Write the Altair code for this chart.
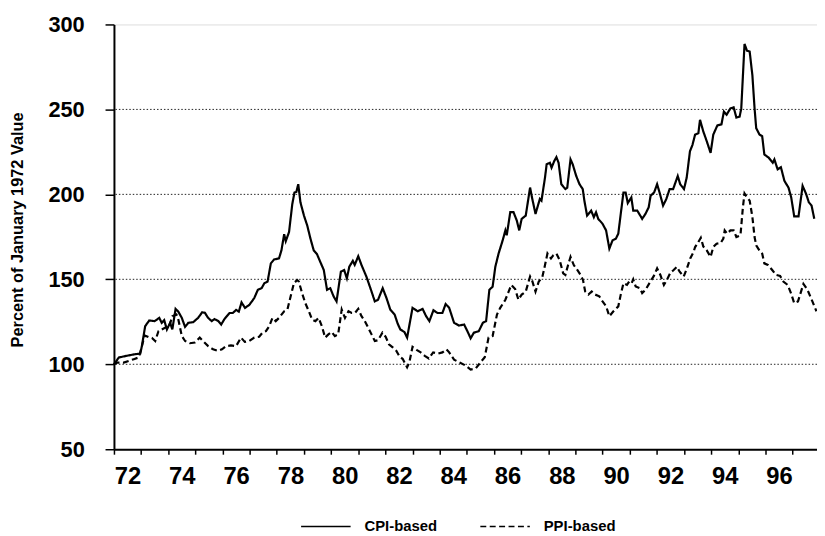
import altair as alt
import pandas as pd

# ---- data (decimal year, percent of Jan-1972) ----
cpi_t = [1972.00, 1972.18, 1972.35, 1972.60, 1972.80, 1972.97, 1973.03, 1973.15, 1973.30, 1973.50,
         1973.67, 1973.76, 1973.85, 1973.95, 1974.07, 1974.15, 1974.27, 1974.37, 1974.50, 1974.62,
         1974.74, 1974.92, 1975.10, 1975.25, 1975.35, 1975.47, 1975.60, 1975.70, 1975.84, 1975.95,
         1976.07, 1976.26, 1976.38, 1976.50, 1976.60, 1976.70, 1976.83, 1976.99, 1977.17, 1977.30,
         1977.44, 1977.54, 1977.66, 1977.78, 1977.90, 1978.08, 1978.17, 1978.27, 1978.33, 1978.45,
         1978.57, 1978.65, 1978.72, 1978.79, 1978.87, 1979.00, 1979.12, 1979.24, 1979.36, 1979.48,
         1979.60, 1979.73, 1979.85, 1979.97, 1980.09, 1980.20, 1980.36, 1980.48, 1980.58, 1980.67,
         1980.80, 1980.87, 1981.00, 1981.12, 1981.30, 1981.49, 1981.61, 1981.73, 1981.90, 1982.04,
         1982.18, 1982.34, 1982.45, 1982.55, 1982.70, 1982.80, 1983.00, 1983.19, 1983.37, 1983.50,
         1983.62, 1983.77, 1983.92, 1984.10, 1984.22, 1984.35, 1984.53, 1984.71, 1984.90, 1985.02,
         1985.14, 1985.26, 1985.44, 1985.59, 1985.71, 1985.83, 1985.95, 1986.05, 1986.17, 1986.32,
         1986.42, 1986.47, 1986.60, 1986.72, 1986.84, 1986.93, 1987.02, 1987.17, 1987.33, 1987.40,
         1987.53, 1987.69, 1987.75, 1987.88, 1987.94, 1988.06, 1988.12, 1988.22, 1988.30, 1988.38,
         1988.48, 1988.63, 1988.70, 1988.82, 1988.90, 1989.03, 1989.15, 1989.27, 1989.33, 1989.43,
         1989.58, 1989.68, 1989.76, 1989.84, 1990.00, 1990.13, 1990.25, 1990.37, 1990.49, 1990.58,
         1990.67, 1990.77, 1990.85, 1990.93, 1991.06, 1991.13, 1991.28, 1991.46, 1991.58, 1991.70,
         1991.77, 1991.90, 1992.01, 1992.10, 1992.23, 1992.35, 1992.47, 1992.60, 1992.77, 1992.86,
         1993.00, 1993.10, 1993.22, 1993.31, 1993.41, 1993.53, 1993.59, 1993.71, 1993.84, 1993.98,
         1994.08, 1994.23, 1994.38, 1994.47, 1994.57, 1994.71, 1994.83, 1994.93, 1995.05, 1995.11,
         1995.23, 1995.32, 1995.42, 1995.52, 1995.60, 1995.66, 1995.78, 1995.88, 1995.96, 1996.12,
         1996.27, 1996.33, 1996.45, 1996.57, 1996.70, 1996.85, 1996.95, 1997.06, 1997.22, 1997.37,
         1997.50, 1997.60, 1997.70, 1997.80]
cpi_v = [100.0, 104.0, 104.6, 105.4, 106.0, 106.3, 110.8, 122.4, 125.8, 125.4,
         127.3, 124.4, 126.0, 120.5, 124.4, 120.5, 132.6, 131.0, 127.3, 122.0,
         124.4, 124.8, 127.3, 130.6, 130.3, 127.3, 125.4, 126.6, 125.5, 123.4,
         126.6, 130.2, 130.2, 132.0, 131.0, 136.4, 133.2, 135.0, 139.0, 143.8,
         144.8, 147.7, 148.7, 159.4, 161.7, 162.3, 167.0, 176.5, 172.5, 177.8,
         194.3, 201.1, 201.5, 206.0, 195.3, 187.5, 181.7, 173.9, 167.0, 164.8,
         160.3, 155.5, 143.8, 144.8, 140.0, 137.0, 154.5, 155.5, 150.6, 157.4,
         160.9, 158.5, 163.6, 158.4, 151.6, 142.8, 137.0, 138.0, 144.8, 139.0,
         132.2, 129.3, 124.0, 120.5, 119.0, 115.7, 133.2, 131.2, 132.6, 128.3,
         125.4, 131.8, 130.2, 130.2, 135.5, 133.2, 124.4, 122.8, 123.4, 119.5,
         115.3, 118.6, 119.5, 124.4, 125.4, 143.8, 145.7, 157.4, 165.2, 172.9,
         178.8, 175.9, 189.5, 189.5, 184.6, 178.8, 185.6, 187.5, 204.0, 198.2,
         188.5, 197.3, 196.3, 209.9, 217.7, 218.6, 215.7, 219.6, 221.9, 218.6,
         206.0, 203.1, 204.0, 220.6, 217.7, 210.8, 206.0, 203.1, 196.3, 187.5,
         190.4, 186.6, 189.5, 185.6, 182.7, 178.8, 168.1, 173.0, 173.9, 176.9,
         188.5, 201.1, 201.1, 194.9, 198.2, 190.4, 190.4, 185.6, 188.5, 192.4,
         199.2, 201.1, 206.0, 201.1, 193.4, 197.3, 203.1, 203.1, 210.8, 206.0,
         203.1, 209.9, 225.4, 229.0, 235.2, 236.0, 243.9, 237.1, 231.2, 224.4,
         235.2, 240.6, 241.2, 248.7, 246.9, 250.6, 251.2, 245.2, 245.8, 250.6,
         288.5, 284.6, 284.0, 270.0, 250.6, 239.0, 235.2, 234.3, 223.5, 221.6,
         218.6, 220.6, 214.7, 216.0, 207.9, 204.0, 198.2, 187.1, 187.1, 205.0,
         200.2, 195.3, 193.4, 185.6]

ppi_t = [1972.00, 1972.12, 1972.36, 1972.55, 1972.73, 1972.91, 1973.00, 1973.13, 1973.27, 1973.40,
         1973.52, 1973.64, 1973.76, 1973.88, 1974.03, 1974.15, 1974.30, 1974.36, 1974.50, 1974.62,
         1974.80, 1974.98, 1975.16, 1975.28, 1975.47, 1975.65, 1975.83, 1975.98, 1976.13, 1976.31,
         1976.50, 1976.68, 1976.82, 1976.98, 1977.17, 1977.35, 1977.47, 1977.60, 1977.72, 1977.84,
         1977.96, 1978.08, 1978.27, 1978.39, 1978.51, 1978.63, 1978.75, 1978.81, 1978.93, 1979.05,
         1979.18, 1979.30, 1979.42, 1979.54, 1979.66, 1979.78, 1979.90, 1980.02, 1980.14, 1980.26,
         1980.39, 1980.51, 1980.64, 1980.76, 1980.88, 1981.00, 1981.12, 1981.24, 1981.37, 1981.49,
         1981.61, 1981.73, 1981.89, 1982.01, 1982.13, 1982.28, 1982.40, 1982.52, 1982.64, 1982.80,
         1982.88, 1983.00, 1983.15, 1983.30, 1983.45, 1983.60, 1983.76, 1983.95, 1984.10, 1984.25,
         1984.35, 1984.53, 1984.77, 1984.95, 1985.14, 1985.33, 1985.50, 1985.66, 1985.80, 1985.95,
         1986.11, 1986.23, 1986.42, 1986.54, 1986.64, 1986.78, 1986.90, 1987.02, 1987.17, 1987.33,
         1987.41, 1987.53, 1987.65, 1987.78, 1987.88, 1987.97, 1988.10, 1988.19, 1988.30, 1988.42,
         1988.55, 1988.63, 1988.73, 1988.82, 1988.94, 1989.07, 1989.19, 1989.28, 1989.36, 1989.48,
         1989.60, 1989.73, 1989.88, 1990.00, 1990.13, 1990.25, 1990.40, 1990.58, 1990.67, 1990.77,
         1990.90, 1990.98, 1991.07, 1991.13, 1991.22, 1991.38, 1991.46, 1991.58, 1991.74, 1991.89,
         1992.01, 1992.13, 1992.26, 1992.38, 1992.50, 1992.62, 1992.74, 1992.84, 1992.99, 1993.11,
         1993.23, 1993.35, 1993.41, 1993.53, 1993.62, 1993.71, 1993.84, 1993.98, 1994.08, 1994.20,
         1994.35, 1994.45, 1994.50, 1994.59, 1994.71, 1994.83, 1994.93, 1995.08, 1995.17, 1995.23,
         1995.32, 1995.42, 1995.52, 1995.60, 1995.66, 1995.78, 1995.88, 1995.96, 1996.09, 1996.25,
         1996.39, 1996.54, 1996.66, 1996.82, 1996.94, 1997.06, 1997.20, 1997.40, 1997.55, 1997.73,
         1997.88]
ppi_v = [100.0, 101.0, 101.0, 102.0, 103.0, 104.0, 108.8, 117.0, 116.0, 115.5,
         113.7, 119.5, 120.5, 121.5, 122.0, 128.3, 129.3, 127.3, 116.6, 113.7,
         112.4, 112.8, 115.7, 113.7, 110.7, 108.8, 107.9, 108.8, 110.7, 111.1,
         110.7, 115.7, 113.2, 113.7, 115.7, 116.2, 118.6, 119.5, 122.4, 127.3,
         125.4, 127.3, 131.2, 132.2, 140.0, 147.7, 149.6, 148.7, 141.9, 136.0,
         131.2, 126.3, 125.4, 127.3, 122.4, 115.7, 117.6, 119.0, 116.6, 117.6,
         132.2, 127.3, 131.2, 130.2, 130.2, 132.6, 128.3, 125.4, 121.4, 117.6,
         113.7, 114.2, 118.6, 116.2, 111.8, 109.8, 108.0, 104.6, 103.1, 98.2,
         101.0, 110.3, 108.5, 107.0, 105.0, 103.4, 107.0, 106.3, 107.0, 108.8,
         107.0, 102.7, 100.8, 99.3, 96.9, 97.6, 101.1, 104.1, 115.7, 116.6,
         129.3, 133.2, 138.0, 142.8, 146.7, 144.3, 138.0, 141.0, 142.8, 151.6,
         149.0, 142.8, 148.7, 151.2, 158.4, 165.2, 162.3, 164.2, 165.2, 161.3,
         153.5, 152.6, 158.4, 163.2, 158.4, 155.5, 152.6, 149.6, 142.8, 141.0,
         142.8, 141.0, 140.0, 137.0, 134.2, 128.3, 131.2, 134.1, 141.0, 147.7,
         146.7, 148.7, 147.7, 150.0, 145.8, 144.8, 141.9, 143.8, 148.1, 152.0,
         156.5, 152.6, 146.7, 150.0, 153.9, 155.5, 157.4, 154.5, 151.6, 156.5,
         162.3, 166.0, 169.0, 172.0, 174.5, 169.4, 167.0, 163.2, 169.0, 171.0,
         171.4, 174.0, 178.8, 176.9, 178.8, 178.8, 174.9, 175.9, 192.4, 200.5,
         198.2, 196.3, 186.6, 174.9, 170.0, 167.0, 165.2, 159.4, 158.5, 155.5,
         152.6, 152.0, 148.7, 146.7, 141.9, 136.0, 137.0, 147.3, 143.8, 137.0,
         131.2]

series_names = ["CPI-based", "PPI-based"]
year_ticks = list(range(1972, 1998))
y_ticks = [50, 100, 150, 200, 250, 300]
grid_levels = [100, 150, 200, 250]

df = pd.concat([
    pd.DataFrame({"year": cpi_t, "value": cpi_v, "series": series_names[0]}),
    pd.DataFrame({"year": ppi_t, "value": ppi_v, "series": series_names[1]}),
])
grid_df = pd.DataFrame({"level": grid_levels})

FONT = "Liberation Sans"

x_scale = alt.Scale(domain=[1972, 1997.9], nice=False, zero=False)
y_scale = alt.Scale(domain=[50, 300], nice=False, zero=False)

y_axis = alt.Axis(
    values=y_ticks, grid=False, title="Percent of January 1972 Value",
    titleFont=FONT, titleFontSize=16.5, titleFontWeight="bold", titleColor="black",
    titleX=-97, titleY=207, titleAngle=270, titleAlign="center", titleBaseline="middle",
    labelFont=FONT, labelFontSize=22, labelFontWeight="bold", labelColor="black",
    labelPadding=21, tickSize=9, tickWidth=1.5, tickColor="black",
    domainColor="black", domainWidth=2,
)
x_axis = alt.Axis(
    values=year_ticks, title=None, grid=False,
    labelExpr="datum.value % 2 == 0 && datum.value < 1997 ? format(datum.value % 100, '02d') : ''",
    labelOffset=13.7, labelFlush=False, labelOverlap=False,
    labelFont=FONT, labelFontSize=24, labelFontWeight="bold", labelColor="black",
    labelPadding=11, tickSize=5, tickWidth=1.5, tickColor="black",
    domainColor="black", domainWidth=2,
)

grid = alt.Chart(grid_df).mark_rule(
    color="#222", strokeWidth=1, strokeDash=[1.5, 2]
).encode(y=alt.Y("level:Q", scale=y_scale, axis=y_axis))

lines = alt.Chart(df).mark_line(strokeWidth=2.2, color="black").encode(
    x=alt.X("year:Q", scale=x_scale, axis=x_axis),
    y=alt.Y("value:Q", scale=y_scale, axis=y_axis),
    strokeDash=alt.StrokeDash(
        "series:N",
        scale=alt.Scale(domain=series_names, range=[[1, 0], [6, 3.5]]),
        legend=alt.Legend(
            title=None, orient="none", direction="horizontal",
            legendX=188, legendY=481, padding=0,
            symbolType="stroke", symbolSize=2500, symbolStrokeWidth=1.3,
            symbolStrokeColor="black", columnPadding=40, labelOffset=13,
            labelFont=FONT, labelFontSize=15, labelFontWeight="bold", labelColor="black",
        ),
    ),
    detail="series:N",
)

chart = alt.layer(grid, lines).properties(
    width=710, height=429,
    autosize=alt.AutoSizeParams(type="none"),
    padding={"left": 107, "top": 14, "right": 0, "bottom": 85},
).configure_view(strokeWidth=0, stroke="transparent").configure(background="white")

chart.save("out.html", embed_options={"renderer": "svg", "actions": False})
